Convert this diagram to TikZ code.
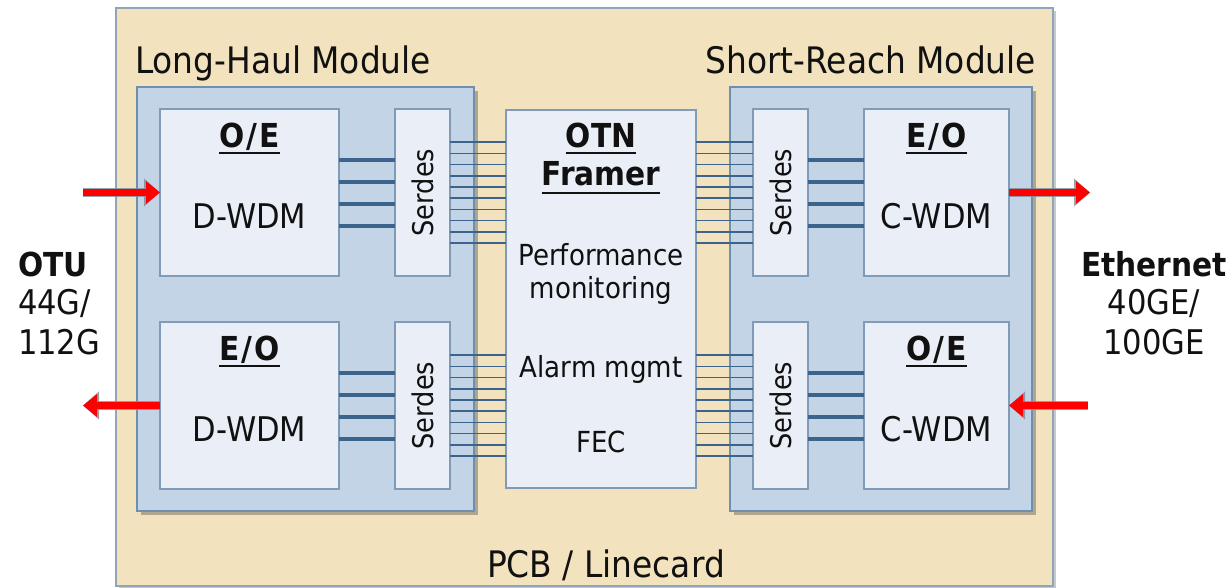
\documentclass[tikz,border=0pt]{standalone}
\usepackage{fontspec}
\setmainfont{DejaVu Sans}[FakeStretch=0.9]
\usetikzlibrary{arrows.meta,shadows}

\definecolor{pcbfill}{HTML}{F2E2BE}
\definecolor{pcbline}{HTML}{8EA5BA}
\definecolor{modfill}{HTML}{C2D4E5}
\definecolor{modline}{HTML}{6F8FAE}
\definecolor{boxfill}{HTML}{EAEFF7}
\definecolor{boxline}{HTML}{7F9BB7}
\definecolor{wire}{HTML}{3C638B}
\definecolor{txt}{HTML}{111111}
\definecolor{arrred}{HTML}{FF0000}
\definecolor{arrgray}{HTML}{7E8C9C}

\begin{document}
\begin{tikzpicture}[x=1pt,y=-1pt,
  pcb/.style={draw=pcbline,line width=2pt,fill=pcbfill,inner sep=0pt,outer sep=0pt,anchor=north west,
    drop shadow={shadow xshift=3pt,shadow yshift=-3pt,opacity=.3,fill=black!70}},
  module/.style={draw=modline,line width=2pt,fill=modfill,inner sep=0pt,outer sep=0pt,anchor=north west,
    drop shadow={shadow xshift=4pt,shadow yshift=-4pt,opacity=.4,fill=black!70}},
  blk/.style={draw=boxline,line width=1.6pt,fill=boxfill,inner sep=0pt,outer sep=0pt,anchor=north west},
  wthick/.style={draw=wire,line width=4pt},
  wthin/.style={draw=wire,line width=1.6pt},
  redarrow/.style={draw=arrred,line width=7pt,-{Triangle[length=14pt,width=22pt]},
    preaction={draw=arrgray,line width=9.5pt,-{Triangle[length=16pt,width=27pt]},opacity=.8}},
  lbl/.style={inner sep=0pt,outer sep=0pt,text=txt,anchor=base,font=\fontsize{34}{40}\selectfont},
  ttl/.style={lbl,font=\fontsize{36.5}{42}\selectfont},
  hd/.style={lbl,font=\fontsize{33}{38}\selectfont\bfseries},
  body/.style={lbl,font=\fontsize{29}{34}\selectfont},
  sd/.style={inner sep=0pt,outer sep=0pt,text=txt,rotate=90,anchor=center,font=\fontsize{28.5}{32}\selectfont},
  ul/.style={draw=txt,line width=2.6pt}
]
\useasboundingbox (0,0) rectangle (1232,587);

% PCB
\node[pcb,minimum width=937pt,minimum height=578pt] (pcb) at (116,8) {};

% modules
\node[module,minimum width=337pt,minimum height=424pt] (lh) at (137,87) {};
\node[module,minimum width=302pt,minimum height=424pt] (sr) at (730,87) {};

% blocks
\node[blk,minimum width=179pt,minimum height=167pt] (oe1) at (160,109) {};
\node[blk,minimum width=55pt,minimum height=167pt] (sd1) at (395,109) {};
\node[blk,minimum width=179pt,minimum height=167pt] (eo1) at (160,322) {};
\node[blk,minimum width=55pt,minimum height=167pt] (sd2) at (395,322) {};
\node[blk,minimum width=190pt,minimum height=378pt] (fr) at (506,110) {};
\node[blk,minimum width=55pt,minimum height=167pt] (sd3) at (753,109) {};
\node[blk,minimum width=145pt,minimum height=167pt] (eo2) at (864,109) {};
\node[blk,minimum width=55pt,minimum height=167pt] (sd4) at (753,322) {};
\node[blk,minimum width=145pt,minimum height=167pt] (oe2) at (864,322) {};

% thick wires
\foreach \d in {-33,-11,11,33}{
  \draw[wthick] ([yshift=\d pt]oe1.east) -- ([yshift=\d pt]sd1.west);
  \draw[wthick] ([yshift=\d pt]eo1.east) -- ([yshift=\d pt]sd2.west);
  \draw[wthick] ([yshift=\d pt]sd3.east) -- ([yshift=\d pt]eo2.west);
  \draw[wthick] ([yshift=\d pt]sd4.east) -- ([yshift=\d pt]oe2.west);
}
% thin wires
\foreach \d in {-50.4,-39.2,-28,-16.8,-5.6,5.6,16.8,28,39.2,50.4}{
  \draw[wthin] ([yshift=\d pt]sd1.east) -- ([yshift=\d pt]sd1.east -| fr.west);
  \draw[wthin] ([yshift=\d pt]sd2.east) -- ([yshift=\d pt]sd2.east -| fr.west);
  \draw[wthin] ([yshift=\d pt]sd3.west -| fr.east) -- ([yshift=\d pt]sd3.west);
  \draw[wthin] ([yshift=\d pt]sd4.west -| fr.east) -- ([yshift=\d pt]sd4.west);
}

% arrows
\coordinate (inL) at (83,192.5);
\coordinate (outL) at (83,405.5);
\coordinate (outR) at (1090,192.5);
\coordinate (inR) at (1088,405.5);
\draw[redarrow] (inL) -- (oe1.west);
\draw[redarrow] (eo1.west) -- (outL);
\draw[redarrow] (eo2.east) -- (outR);
\draw[redarrow] (inR) -- (oe2.east);

% titles
\node[ttl,anchor=base west] (lhT) at (135,73) {Long-Haul Module};
\node[ttl,anchor=base east] (srT) at (1036,73) {Short-Reach Module};
\node[ttl] (pcbT) at (606,577) {PCB / Linecard};

% block texts
\node[hd] (oe1h) at (249.5,147) {O\kern2pt/\kern2pt E};
\draw[ul] ([yshift=-6pt]oe1h.base west) -- ([yshift=-6pt]oe1h.base east);
\node[lbl] (oe1t) at (249.5,228) {D-WDM};
\node[hd] (eo1h) at (249.5,360) {E\kern2pt/\kern2pt O};
\draw[ul] ([yshift=-6pt]eo1h.base west) -- ([yshift=-6pt]eo1h.base east);
\node[lbl] (eo1t) at (249.5,441) {D-WDM};

\node[hd] (eo2h) at (936.5,147) {E\kern2pt/\kern2pt O};
\draw[ul] ([yshift=-6pt]eo2h.base west) -- ([yshift=-6pt]eo2h.base east);
\node[lbl] (eo2t) at (936.5,228) {C-WDM};
\node[hd] (oe2h) at (936.5,360) {O\kern2pt/\kern2pt E};
\draw[ul] ([yshift=-6pt]oe2h.base west) -- ([yshift=-6pt]oe2h.base east);
\node[lbl] (oe2t) at (936.5,441) {C-WDM};

\node[sd] (sd1t) at (sd1.center) {Serdes};
\node[sd] (sd2t) at (sd2.center) {Serdes};
\node[sd] (sd3t) at (sd3.center) {Serdes};
\node[sd] (sd4t) at (sd4.center) {Serdes};

% framer texts
\node[hd] (frh1) at (601,147) {OTN};
\draw[ul] ([yshift=-6pt]frh1.base west) -- ([yshift=-6pt]frh1.base east);
\node[hd] (frh2) at (601,185) {Framer};
\draw[ul] ([yshift=-8pt]frh2.base west) -- ([yshift=-8pt]frh2.base east);
\node[body] (fr1) at (601,265) {Performance};
\node[body] (fr2) at (601,298) {monitoring};
\node[body] (fr3) at (601,377) {Alarm mgmt};
\node[body] (fr4) at (601,452) {FEC};

% side labels
\node[hd,anchor=base west] (otu1) at (18,276) {OTU};
\node[lbl,anchor=base west] (otu2) at (18,314) {44G/};
\node[lbl,anchor=base west] (otu3) at (18,354) {112G};
\node[hd] (eth1) at (1154,276) {Ethernet};
\node[lbl] (eth2) at (1154,314) {40GE/};
\node[lbl] (eth3) at (1154,354) {100GE};
\end{tikzpicture}
\end{document}
